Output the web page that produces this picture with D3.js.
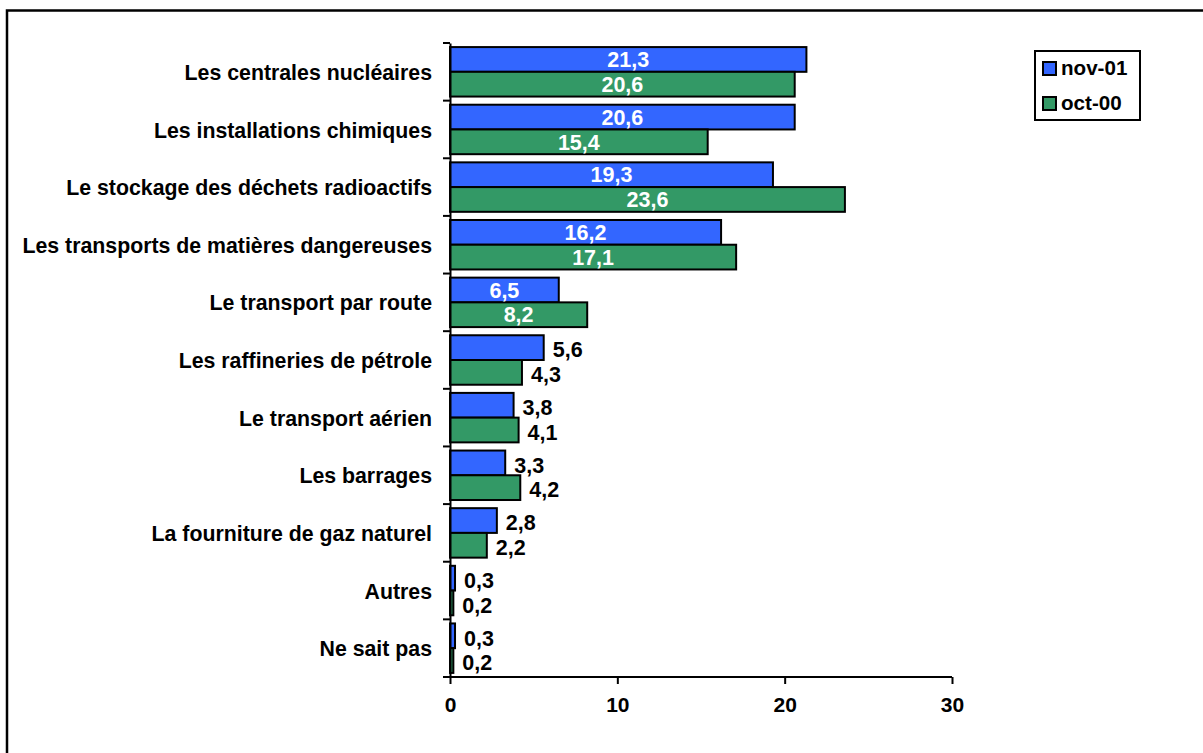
<!DOCTYPE html>
<html><head><meta charset="utf-8">
<script src="https://cdn.jsdelivr.net/npm/d3@7"></script>
<style>
html,body{margin:0;padding:0;background:#fff;}
svg text{font-family:"Liberation Sans",Arial,sans-serif;font-weight:bold;}
</style>
</head><body>
<svg id="chart" width="1203" height="753"></svg>
<script>
const categories = ["Les centrales nucléaires","Les installations chimiques","Le stockage des déchets radioactifs","Les transports de matières dangereuses","Le transport par route","Les raffineries de pétrole","Le transport aérien","Les barrages","La fourniture de gaz naturel","Autres","Ne sait pas"];
const seriesNames = ["nov-01","oct-00"];
const nov01 = [21.3,20.6,19.3,16.2,6.5,5.6,3.8,3.3,2.8,0.3,0.3];
const oct00 = [20.6,15.4,23.6,17.1,8.2,4.3,4.1,4.2,2.2,0.2,0.2];
const xTicks = [0,10,20,30];
const colors = ["#3366FF","#339966"];

const svg = d3.select("#chart");
// outer frame
svg.append("rect").attr("x",7).attr("y",10.5).attr("width",1230).attr("height",780)
  .attr("fill","none").attr("stroke","#000").attr("stroke-width",2.5);

const x = d3.scaleLinear().domain([0,30]).range([450,952]);
const y = d3.scaleBand().domain(categories).range([43,677]);
const yInner = d3.scaleBand().domain(seriesNames).range([0,y.bandwidth()]).paddingOuter(0.165);

const data = categories.map((c,i)=>({cat:c, vals:[nov01[i],oct00[i]]}));

const g = svg.append("g");
const groups = g.selectAll("g.cat").data(data).join("g").attr("class","cat")
  .attr("transform",d=>`translate(0,${y(d.cat)})`);

groups.selectAll("rect").data(d=>d.vals.map((v,k)=>({v,k}))).join("rect")
  .attr("x",x(0)).attr("y",d=>yInner(seriesNames[d.k]))
  .attr("width",d=>x(d.v)-x(0)).attr("height",yInner.bandwidth())
  .attr("fill",d=>colors[d.k]).attr("stroke","#000").attr("stroke-width",2);

groups.selectAll("text.val").data(d=>d.vals.map((v,k)=>({v,k}))).join("text")
  .attr("class","val")
  .attr("x",d=> d.v>=6 ? (x(d.v)+x(0))/2 : x(d.v)+9)
  .attr("y",d=>yInner(seriesNames[d.k])+yInner.bandwidth()/2 + (d.v>=6?0:2))
  .attr("dy","0.36em")
  .attr("text-anchor",d=>d.v>=6?"middle":"start")
  .attr("fill",d=>d.v>=6?"#fff":"#000")
  .style("font-size","21.5px")
  .text(d=>String(d.v.toFixed(1)).replace(".",","));

// y axis
const yAxis = d3.axisLeft(y).tickSize(0).tickPadding(18).tickFormat(d=>d);
const ya = svg.append("g").attr("transform",`translate(${x(0)},0)`).call(yAxis);
ya.select(".domain").attr("stroke","#000").attr("stroke-width",2);
ya.selectAll(".tick text").style("font-size","21.3px").attr("fill","#000").attr("dy","0.38em");
// category boundary ticks
const bounds = categories.map(c=>y(c)).concat([y.range()[1]]);
svg.append("g").selectAll("line").data(bounds).join("line")
  .attr("x1",x(0)-7).attr("x2",x(0)).attr("y1",d=>d).attr("y2",d=>d)
  .attr("stroke","#000").attr("stroke-width",2);

// x axis
const xAxis = d3.axisBottom(x).tickValues(xTicks).tickSize(7).tickPadding(13).tickFormat(d3.format("d"));
const xa = svg.append("g").attr("transform",`translate(0,677)`).call(xAxis);
xa.select(".domain").attr("stroke","#000").attr("stroke-width",2).attr("d",`M${x(0)-7},0H${x(30)}`);
xa.selectAll(".tick line").attr("stroke","#000").attr("stroke-width",2);
xa.selectAll(".tick text").style("font-size","21px").attr("fill","#000");

// legend
const lg = svg.append("g");
lg.append("rect").attr("x",1035).attr("y",51).attr("width",105).attr("height",69)
  .attr("fill","#fff").attr("stroke","#000").attr("stroke-width",2);
seriesNames.forEach((s,k)=>{
  lg.append("rect").attr("x",1043).attr("y",62+k*35).attr("width",13).attr("height",13)
    .attr("fill",colors[k]).attr("stroke","#000").attr("stroke-width",2);
  lg.append("text").attr("x",1061).attr("y",75+k*35).style("font-size","20.6px").text(s);
});
</script>
</body></html>
